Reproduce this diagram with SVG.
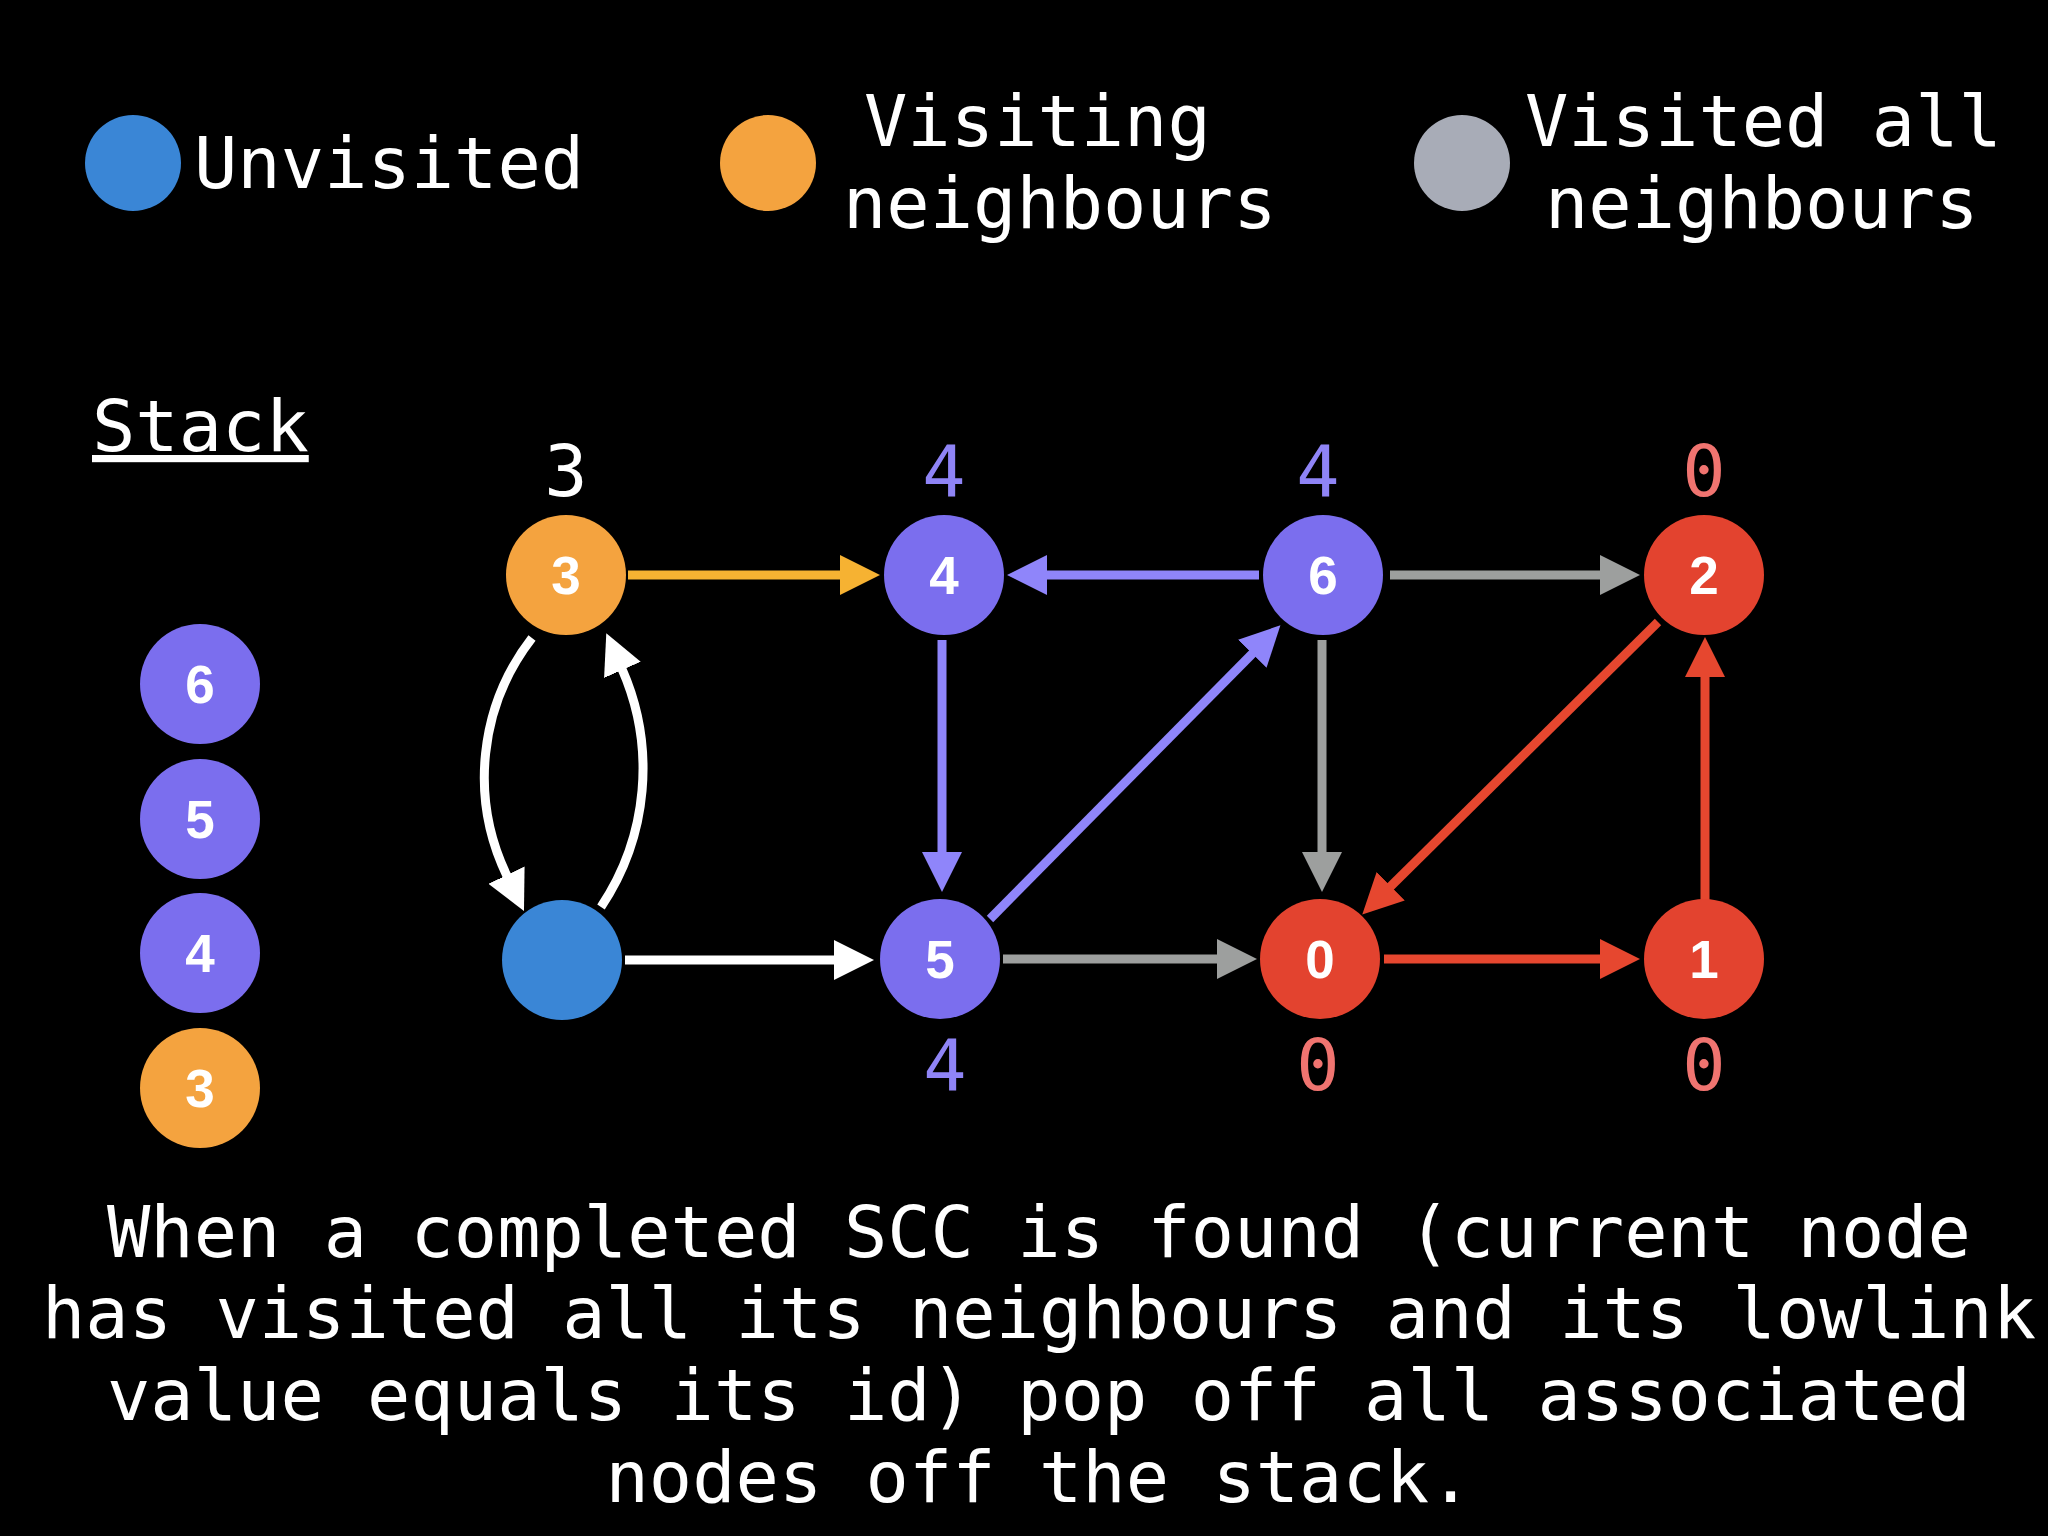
<svg xmlns="http://www.w3.org/2000/svg" width="2048" height="1536" viewBox="0 0 2048 1536">
<style>
.mono{font-family:"DejaVu Sans Mono","Liberation Mono",monospace;font-size:72px;fill:#ffffff}
.lbl{font-family:"Liberation Sans",Arial,sans-serif;font-weight:bold;font-size:53px;fill:#ffffff;text-anchor:middle}
.low{font-family:"DejaVu Sans Mono","Liberation Mono",monospace;font-size:72px;text-anchor:middle}
.blue{fill:#3A86D6}.orange{fill:#F4A33F}.grey{fill:#A8ACB7}.purple{fill:#7B6EEE}.red{fill:#E3432F}
.e{fill:none;stroke-width:9}
.eo{stroke:#F6B232}.ep{stroke:#8F85FA}.eg{stroke:#9D9F9E}.er{stroke:#E6472F}.ew{stroke:#FFFFFF}
</style>
<defs>
<marker id="ao" markerUnits="userSpaceOnUse" markerWidth="40" markerHeight="40" viewBox="0 -20 40 40" refX="1" refY="0" orient="auto"><path d="M0,-20 L40,0 L0,20 z" fill="#F6B232"/></marker>
<marker id="ap" markerUnits="userSpaceOnUse" markerWidth="40" markerHeight="40" viewBox="0 -20 40 40" refX="1" refY="0" orient="auto"><path d="M0,-20 L40,0 L0,20 z" fill="#8F85FA"/></marker>
<marker id="ag" markerUnits="userSpaceOnUse" markerWidth="40" markerHeight="40" viewBox="0 -20 40 40" refX="1" refY="0" orient="auto"><path d="M0,-20 L40,0 L0,20 z" fill="#9D9F9E"/></marker>
<marker id="ar" markerUnits="userSpaceOnUse" markerWidth="40" markerHeight="40" viewBox="0 -20 40 40" refX="1" refY="0" orient="auto"><path d="M0,-20 L40,0 L0,20 z" fill="#E6472F"/></marker>
<marker id="aw" markerUnits="userSpaceOnUse" markerWidth="40" markerHeight="40" viewBox="0 -20 40 40" refX="1" refY="0" orient="auto"><path d="M0,-20 L40,0 L0,20 z" fill="#FFFFFF"/></marker>
</defs>
<rect x="0" y="0" width="2048" height="1536" fill="#000000"/>

<g id="legend">
<g id="legend-unvisited"><circle class="blue" cx="133" cy="163" r="48"/><text class="mono" x="194" y="188">Unvisited</text></g>
<g id="legend-visiting"><circle class="orange" cx="768" cy="163" r="48"/><text class="mono" x="864" y="146">Visiting</text><text class="mono" x="843" y="228">neighbours</text></g>
<g id="legend-visited"><circle class="grey" cx="1462" cy="163" r="48"/><text class="mono" x="1525" y="146">Visited all</text><text class="mono" x="1545" y="228">neighbours</text></g>
</g>

<g id="stack">
<text class="mono" x="92" y="451" text-decoration="underline">Stack</text>
<g id="stack-6"><circle class="purple" cx="200" cy="684" r="60"/><text class="lbl" x="200" y="703">6</text></g>
<g id="stack-5"><circle class="purple" cx="200" cy="819" r="60"/><text class="lbl" x="200" y="838">5</text></g>
<g id="stack-4"><circle class="purple" cx="200" cy="953" r="60"/><text class="lbl" x="200" y="972">4</text></g>
<g id="stack-3"><circle class="orange" cx="200" cy="1088" r="60"/><text class="lbl" x="200" y="1107">3</text></g>
</g>

<g id="connectors">
<path class="e eo" d="M628 575 H841" marker-end="url(#ao)"/>
<path class="e ep" d="M1259 575 H1046" marker-end="url(#ap)"/>
<path class="e eg" d="M1390 575 H1601" marker-end="url(#ag)"/>
<path class="e ep" d="M942 640 V853" marker-end="url(#ap)"/>
<path class="e ep" d="M990 919 L1253 653" marker-end="url(#ap)"/>
<path class="e eg" d="M1322 640 V853" marker-end="url(#ag)"/>
<path class="e er" d="M1658 622 L1390 887" marker-end="url(#ar)"/>
<path class="e eg" d="M1003 959 H1218" marker-end="url(#ag)"/>
<path class="e er" d="M1384 959 H1601" marker-end="url(#ar)"/>
<path class="e er" d="M1705 900 V676" marker-end="url(#ar)"/>
<path class="e ew" d="M625 960 H835" marker-end="url(#aw)"/>
<path class="e ew" d="M532 638 A227 227 0 0 0 507 876" marker-end="url(#aw)"/>
<path class="e ew" d="M601 907 A248 248 0 0 0 622 669" marker-end="url(#aw)"/>
</g>

<g id="node-3"><circle class="orange" cx="566" cy="575" r="60"/><text class="lbl" x="566" y="594">3</text><text class="low" x="566" y="496" fill="#FFFFFF">3</text></g>
<g id="node-unvisited"><circle class="blue" cx="562" cy="960" r="60"/></g>
<g id="node-4"><circle class="purple" cx="944" cy="575" r="60"/><text class="lbl" x="944" y="594">4</text><text class="low" x="944" y="496" fill="#8F84F6">4</text></g>
<g id="node-5"><circle class="purple" cx="940" cy="959" r="60"/><text class="lbl" x="940" y="978">5</text><text class="low" x="945" y="1090" fill="#8F84F6">4</text></g>
<g id="node-6"><circle class="purple" cx="1323" cy="575" r="60"/><text class="lbl" x="1323" y="594">6</text><text class="low" x="1318" y="496" fill="#8F84F6">4</text></g>
<g id="node-0"><circle class="red" cx="1320" cy="959" r="60"/><text class="lbl" x="1320" y="978">0</text><text class="low" x="1318" y="1090" fill="#F07470">0</text></g>
<g id="node-2"><circle class="red" cx="1704" cy="575" r="60"/><text class="lbl" x="1704" y="594">2</text><text class="low" x="1704" y="496" fill="#F07470">0</text></g>
<g id="node-1"><circle class="red" cx="1704" cy="959" r="60"/><text class="lbl" x="1704" y="978">1</text><text class="low" x="1704" y="1090" fill="#F07470">0</text></g>

<g id="caption" class="mono" text-anchor="middle">
<text x="1039" y="1257">When a completed SCC is found (current node</text>
<text x="1039" y="1338">has visited all its neighbours and its lowlink</text>
<text x="1039" y="1420">value equals its id) pop off all associated</text>
<text x="1039" y="1502">nodes off the stack.</text>
</g>
</svg>
